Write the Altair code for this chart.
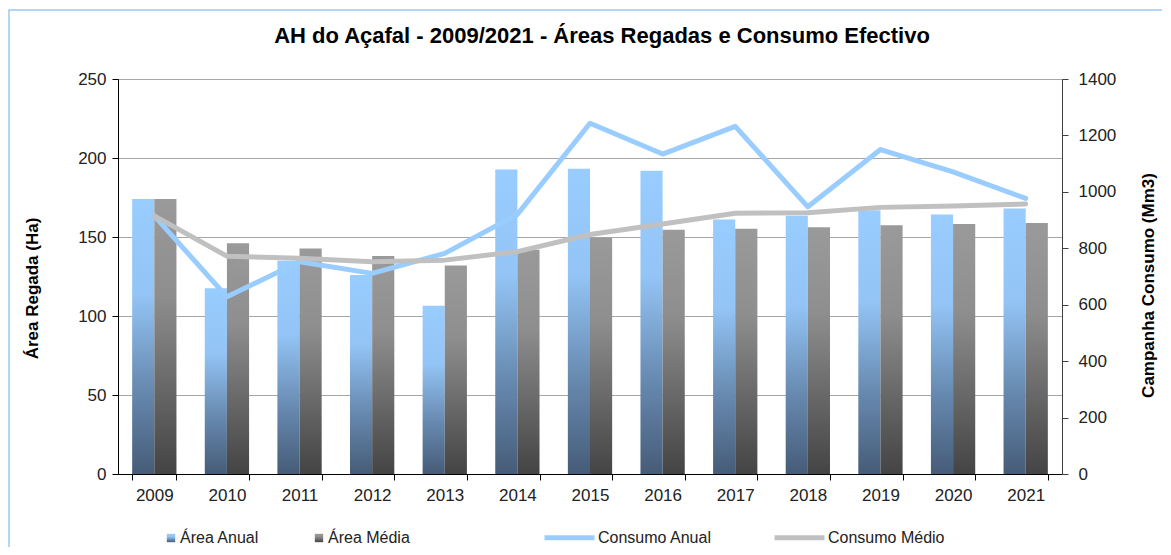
import altair as alt
import pandas as pd

FONT = "Liberation Sans"

years = ["2009", "2010", "2011", "2012", "2013", "2014", "2015",
         "2016", "2017", "2018", "2019", "2020", "2021"]
area_anual = [174, 117.5, 135, 126, 106.5, 192.8, 193.2, 192, 161, 163.5, 167, 164.3, 168]
area_media = [174, 146, 142.8, 138, 132, 142, 149.6, 154.6, 155.3, 156.1, 157.4, 158.2, 158.9]
consumo_anual = [915, 628, 752, 711, 782, 920, 1243, 1134, 1232, 947, 1150, 1071, 977]
consumo_medio = [915, 772, 765, 752, 758, 788, 849, 886, 924, 926, 945, 950, 957]

bar_series = ["Área Anual", "Área Média"]
line_series = ["Consumo Anual", "Consumo Médio"]

bar_df = pd.DataFrame({
    "Ano": years * 2,
    "Serie": [bar_series[0]] * len(years) + [bar_series[1]] * len(years),
    "Area": area_anual + area_media,
})
line_df = pd.DataFrame({
    "Ano": years * 2,
    "Serie": [line_series[0]] * len(years) + [line_series[1]] * len(years),
    "Consumo": consumo_anual + consumo_medio,
})
frame_df = pd.DataFrame({"k": [0]})

grad_anual = ("{gradient:'linear',x1:0,y1:0,x2:0,y2:1,stops:["
              "{offset:0,color:'#99CCFF'},{offset:0.35,color:'#93C4F5'},"
              "{offset:0.7,color:'#6688AE'},{offset:1,color:'#465C78'}]}")
grad_media = ("{gradient:'linear',x1:0,y1:0,x2:0,y2:1,stops:["
              "{offset:0,color:'#9A9A9A'},{offset:0.35,color:'#8E8E8E'},"
              "{offset:0.7,color:'#666666'},{offset:1,color:'#444444'}]}")

x_enc = alt.X(
    "Ano:N", sort=years,
    scale=alt.Scale(paddingInner=0.39, paddingOuter=0.195),
    axis=alt.Axis(title=None, labelAngle=0, labelFontSize=17, labelFont=FONT,
                  labelColor="#222222", labelPadding=7, tickBand="extent",
                  tickSize=6, tickColor="#000000", domainColor="#000000",
                  grid=False),
)

frame = alt.Chart(frame_df).mark_rect(
    fill="transparent", stroke="#9CC8F0", strokeWidth=1.5
).encode(
    x=alt.value(-109), x2=alt.value(1300), y=alt.value(-69), y2=alt.value(700)
)

bars = alt.Chart(bar_df).mark_bar().encode(
    x=x_enc,
    xOffset=alt.XOffset("Serie:N", sort=bar_series,
                        scale=alt.Scale(paddingInner=0, paddingOuter=0)),
    y=alt.Y("Area:Q",
            scale=alt.Scale(domain=[0, 250], nice=False),
            axis=alt.Axis(title="Área Regada (Ha)", values=[0, 50, 100, 150, 200, 250],
                          grid=True, gridColor="#A6A6A6", gridWidth=1,
                          labelFontSize=17, labelFont=FONT, labelColor="#222222",
                          labelPadding=6, tickSize=6, tickColor="#000000",
                          domainColor="#000000",
                          titleFont=FONT, titleFontSize=17, titleFontWeight="bold",
                          titleColor="#000000", titlePadding=36, titleY=209)),
    fill=alt.Fill("Serie:N",
                  scale=alt.Scale(domain=bar_series,
                                  range=[{"expr": grad_anual}, {"expr": grad_media}]),
                  legend=alt.Legend(title=None, orient="none", legendX=45, legendY=451,
                                    direction="horizontal", symbolType="square",
                                    symbolSize=70, symbolStrokeWidth=0,
                                    labelFontSize=16, labelFont=FONT,
                                    labelColor="#222222", labelOffset=1,
                                    columnPadding=51, padding=0)),
)

lines = alt.Chart(line_df).mark_line(
    strokeWidth=5, strokeJoin="round", strokeCap="round"
).encode(
    x=x_enc,
    y=alt.Y("Consumo:Q",
            scale=alt.Scale(domain=[0, 1400], nice=False),
            axis=alt.Axis(orient="right", title="Campanha Consumo (Mm3)",
                          values=[0, 200, 400, 600, 800, 1000, 1200, 1400],
                          format="d",
                          grid=False, labelFontSize=17, labelFont=FONT,
                          labelColor="#222222", labelPadding=10, tickSize=6,
                          tickColor="#404040", domainColor="#404040",
                          titleFont=FONT, titleFontSize=17, titleFontWeight="bold",
                          titleColor="#000000", titleAngle=270, titlePadding=42,
                          titleY=206)),
    stroke=alt.Stroke("Serie:N",
                      scale=alt.Scale(domain=line_series, range=["#99CCFF", "#C0C0C0"]),
                      legend=alt.Legend(title=None, orient="none", legendX=424, legendY=431,
                                        direction="horizontal", symbolType="stroke",
                                        symbolSize=2500, symbolStrokeWidth=5,
                                        labelFontSize=16, labelFont=FONT,
                                        labelColor="#222222", labelOffset=1,
                                        columnPadding=52, padding=0)),
)

chart = alt.layer(frame, bars, lines).resolve_scale(
    y="independent"
).properties(
    width=944,
    height=395,
    autosize=alt.AutoSizeParams(type="none"),
    padding={"left": 110, "top": 71, "right": 100, "bottom": 73},
    title=alt.TitleParams(
        text="AH do Açafal - 2009/2021 - Áreas Regadas e Consumo Efectivo",
        font=FONT, fontSize=22, fontWeight="bold", color="#000000",
        anchor="middle", frame="group", dx=12, offset=-39),
).configure_view(strokeWidth=0).configure(background="white")

chart.save("out.html", embed_options={"renderer": "svg", "actions": False})
